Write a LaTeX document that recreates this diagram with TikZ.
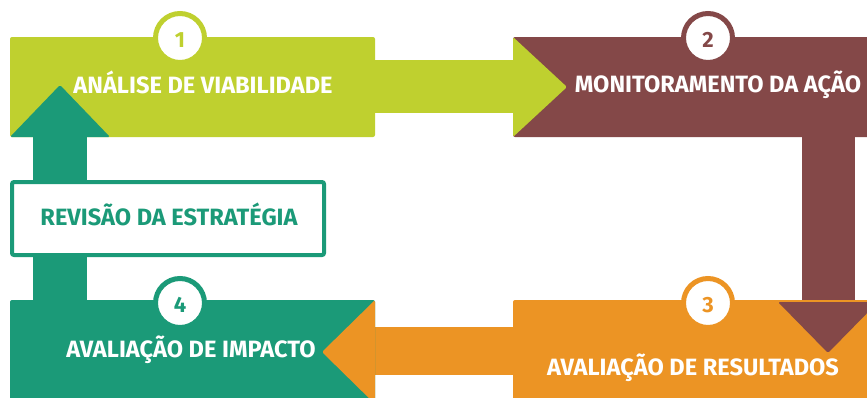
\documentclass[tikz,border=0pt]{standalone}
\usepackage{fontspec}
\setmainfont{Fira Sans}
\definecolor{lime}{HTML}{BFD02F}
\definecolor{maroon}{HTML}{844848}
\definecolor{orangeC}{HTML}{EC9424}
\definecolor{teal}{HTML}{1B9A78}
\tikzset{
  box/.style={rectangle, inner sep=0pt, outer sep=0pt, anchor=north west, rounded corners=2pt},
  lbl/.style={anchor=base, inner sep=0pt, text=white, font=\fontsize{23.6}{28}\selectfont\bfseries},
  num/.style={circle, fill=white, draw=#1, line width=5pt, minimum size=49pt, inner sep=0pt},
  numtxt/.style={anchor=base, inner sep=0pt, text=#1, font=\fontsize{22}{26}\selectfont\bfseries},
}
\begin{document}
\begin{tikzpicture}[x=1pt,y=-1pt]
\useasboundingbox (0,0) rectangle (867,397);
% box 1
\node[box, fill=lime, minimum width=365pt, minimum height=100pt] (b1) at (10,37) {};
\fill[lime] (375,60) rectangle (515,113);
% box 2
\node[box, fill=maroon, minimum width=370pt, minimum height=100pt] (b2) at (513,37) {};
\fill[lime, rounded corners=1.5pt] (b2.north west) -- (567,87) -- (b2.south west) -- cycle;
\fill[maroon] (802,136) rectangle (855,303);
% box 3
\node[box, fill=orangeC, minimum width=370pt, minimum height=110pt] (b3) at (513,300) {};
\fill[maroon, rounded corners=1.5pt] (778,302) -- (828,353) -- (878,302) -- cycle;
\fill[orangeC] (374,327) rectangle (515,375);
% box 4
\node[box, fill=teal, minimum width=365pt, minimum height=110pt] (b4) at (10,300) {};
\fill[orangeC, rounded corners=1.5pt] (375,300) -- (322,352) -- (375,404) -- cycle;
% teal up arrow
\fill[teal] (33,136) rectangle (87,302);
\fill[teal, rounded corners=1.5pt] (10,137) -- (60,85) -- (110,137) -- cycle;
% revision box
\node[box, fill=white, draw=teal, line width=4pt, minimum width=312pt, minimum height=73pt] (rv) at (12,182) {};
% circles
\node[num=lime] (c1) at (180,38) {};
\node[num=maroon] (c2) at (708,38) {};
\node[num=orangeC] (c3) at (708,303) {};
\node[num=teal] (c4) at (180,303) {};
\node[numtxt=lime] (n1) at (180,47.5) {1};
\node[numtxt=maroon] (n2) at (708,47.5) {2};
\node[numtxt=orangeC] (n3) at (708,312.5) {3};
\node[numtxt=teal] (n4) at (180,312.5) {4};
% labels
\node[lbl] (t1) at (203,93) {ANÁLISE DE VIABILIDADE};
\node[lbl] (t2) at (718,92) {MONITORAMENTO DA AÇÃO};
\node[lbl] (t3) at (693,375) {AVALIAÇÃO DE RESULTADOS};
\node[lbl] (t4) at (191,357) {AVALIAÇÃO DE IMPACTO};
\node[lbl, text=teal] (tr) at (169,225) {REVISÃO DA ESTRATÉGIA};
\end{tikzpicture}
\end{document}
